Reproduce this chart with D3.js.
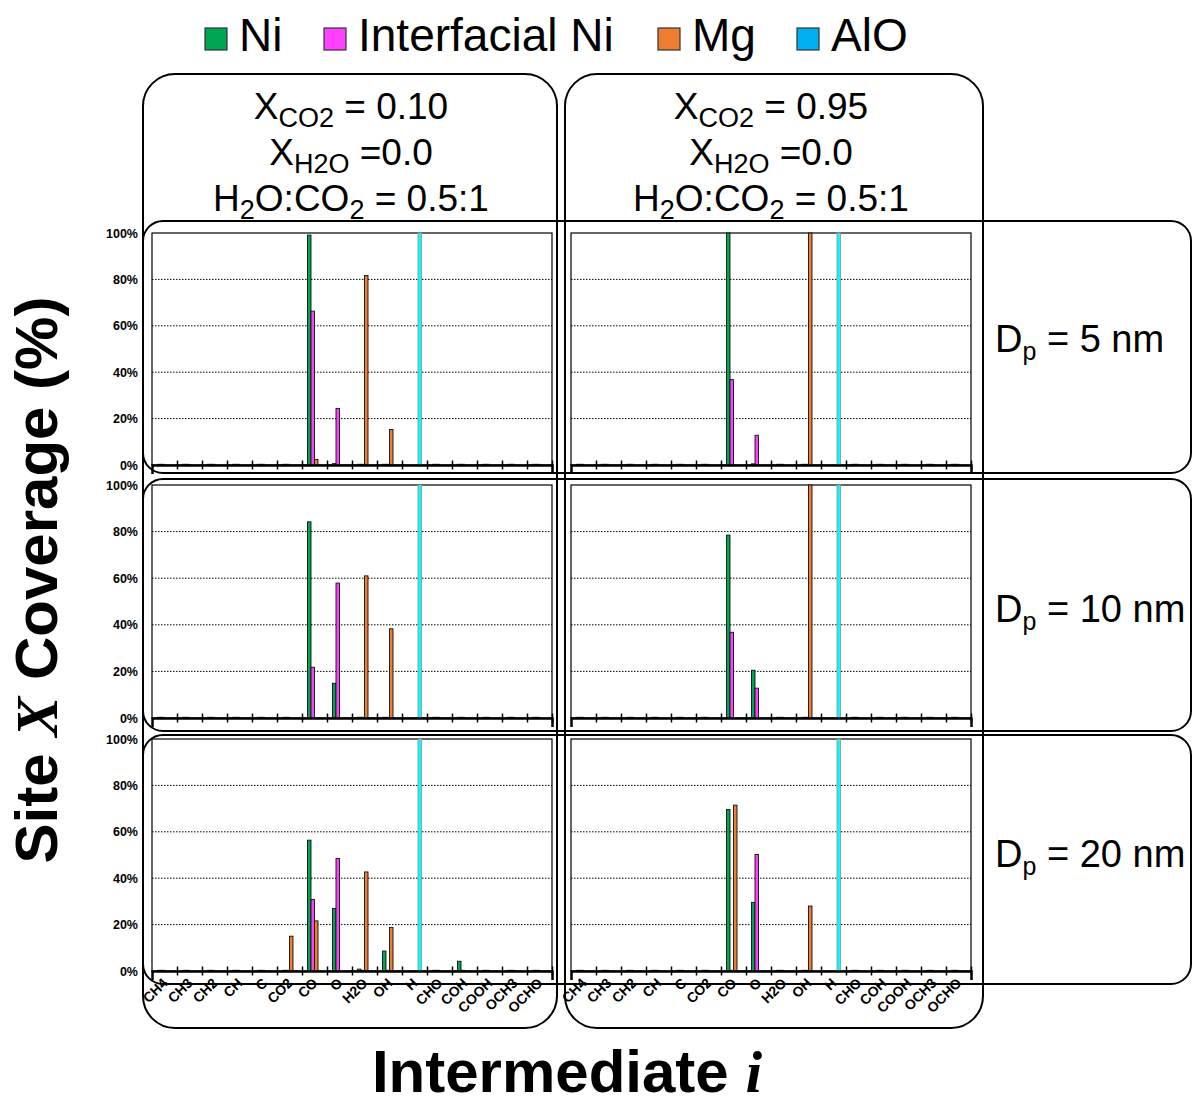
<!DOCTYPE html>
<html><head><meta charset="utf-8">
<script src="https://cdn.jsdelivr.net/npm/d3@7"></script>
<style>body{margin:0;background:#fff;} svg{display:block;font-family:"Liberation Sans",Arial,sans-serif;}</style>
</head><body><svg id="chart" width="1192" height="1097"></svg>
<script>
// ---------------- DATA ----------------
const categories = ["CH4","CH3","CH2","CH","C","CO2","CO","O","H2O","OH","H","CHO","COH","COOH","OCH3","OCHO"];
const seriesNames = ["Ni","Interfacial Ni","Mg","AlO"];
const diameters = ["5","10","20"];          // rows (D_p, nm)
const xco2Values = ["0.10","0.95"];          // columns
const xh2oValue = "0.0";
const ratioValue = "0.5:1";
const yTicks = [0,20,40,60,80,100];

// coverage [row = D_p][col = X_CO2][category]
const niCoverage = [
  [[0.3,0.3,0.3,0.3,0.3,0.3,99.1,0.6,0.3,0.3,0,0.3,0.3,0.3,0.3,0.3],
   [0.3,0.3,0.3,0.3,0.3,0.3,100,0.5,0.3,0.3,0,0.3,0.3,0.3,0.3,0.3]],
  [[0.3,0.3,0.3,0.3,0.3,0.3,84.2,14.9,0.3,0.3,0,0.3,0.3,0.3,0.3,0.3],
   [0.3,0.3,0.3,0.3,0.3,0.3,78.5,20.5,0.3,0.3,0,0.3,0.3,0.3,0.3,0.3]],
  [[0.3,0.3,0.3,0.3,0.3,0.3,56.4,27.0,0.8,8.6,0,0.3,4.2,0.3,0.3,0.3],
   [0.3,0.3,0.3,0.3,0.3,0.3,69.6,29.6,0.3,0.3,0,0.3,0.3,0.3,0.3,0.3]]
];
const interfacialNiCoverage = [
  [[0.3,0.3,0.3,0.3,0.3,0.3,66.3,24.4,0.3,0.3,0,0.3,0.3,0.3,0.3,0.3],
   [0.3,0.3,0.3,0.3,0.3,0.3,36.8,12.8,0.3,0.3,0,0.3,0.3,0.3,0.3,0.3]],
  [[0.3,0.3,0.3,0.3,0.3,0.3,21.8,57.9,0.3,0.3,0,0.3,0.3,0.3,0.3,0.3],
   [0.3,0.3,0.3,0.3,0.3,0.3,36.8,12.8,0.3,0.3,0,0.3,0.3,0.3,0.3,0.3]],
  [[0.3,0.3,0.3,0.3,0.3,0.3,30.8,48.5,0.3,0.3,0,0.3,0.3,0.3,0.3,0.3],
   [0.3,0.3,0.3,0.3,0.3,0.3,0.3,50.2,0.3,0.3,0,0.3,0.3,0.3,0.3,0.3]]
];
const mgCoverage = [
  [[0,0,0,0,0,0,2.4,0,81.7,15.3,0,0,0,0,0,0],
   [0,0,0,0,0,0,0,0,0,100,0,0,0,0,0,0]],
  [[0,0,0,0,0,0,0,0,61.0,38.3,0,0,0,0,0,0],
   [0,0,0,0,0,0,0,0,0,100,0,0,0,0,0,0]],
  [[0,0,0,0,0,15.0,21.6,0,42.7,18.8,0,0,0,0,0,0],
   [0,0,0,0,0,0,71.5,0,0,28.0,0,0,0,0,0,0]]
];
const aloCoverage = [
  [[0,0,0,0,0,0,0,0,0,0,100,0,0,0,0,0],
   [0,0,0,0,0,0,0,0,0,0,100,0,0,0,0,0]],
  [[0,0,0,0,0,0,0,0,0,0,100,0,0,0,0,0],
   [0,0,0,0,0,0,0,0,0,0,100,0,0,0,0,0]],
  [[0,0,0,0,0,0,0,0,0,0,100,0,0,0,0,0],
   [0,0,0,0,0,0,0,0,0,0,100,0,0,0,0,0]]
];

// ---------------- STYLE / LAYOUT ----------------
const barColors = ["#00A651","#FF40FF","#ED7D31","#00FFFF"];
const barStrokes = ["#111","#111","#111","#999"];
const legendColors = ["#00A651","#FF40FF","#ED7D31","#00B0F0"];
const allSeries = [niCoverage, interfacialNiCoverage, mgCoverage, aloCoverage];

const rowTop = [233, 485, 739];
const rowBottom = [465, 718, 971];
const colLeft = [152, 571];
const plotW = 400;

const svg = d3.select("#chart");

// outer boxes
const boxes = svg.append("g").attr("fill","none").attr("stroke","#000").attr("stroke-width",2);
boxes.append("rect").attr("x",143).attr("y",74).attr("width",414).attr("height",954).attr("rx",32);
boxes.append("rect").attr("x",565).attr("y",74).attr("width",418).attr("height",954).attr("rx",32);
[[221,252],[479,252],[735,249]].forEach(([y,h]) => {
  boxes.append("rect").attr("x",143).attr("y",y).attr("width",1048).attr("height",h).attr("rx",20);
});

// legend
const legendX = [205, 324, 658, 797];
const legend = svg.append("g");
seriesNames.forEach((s,i) => {
  legend.append("rect").attr("x",legendX[i]).attr("y",28).attr("width",22).attr("height",22)
    .attr("fill",legendColors[i]).attr("stroke","#333").attr("stroke-width",1.2);
  legend.append("text").attr("x",legendX[i]+34).attr("y",51).attr("font-size",46).text(s);
});

// rich text helper: parts = [[text, isSub]]
function richText(parent, x, y, parts, size, subSize, anchor) {
  const t = parent.append("text").attr("x",x).attr("y",y).attr("font-size",size)
    .attr("text-anchor",anchor||"middle");
  let shifted = false;
  parts.forEach(([txt, sub]) => {
    const ts = t.append("tspan").text(txt);
    if (sub && !shifted) { ts.attr("dy", size*0.22).attr("font-size", subSize); shifted = true; }
    else if (sub) { ts.attr("font-size", subSize); }
    else if (!sub && shifted) { ts.attr("dy", -size*0.22); shifted = false; }
  });
  return t;
}

// column headers
const colCenter = [351, 771];
xco2Values.forEach((v,c) => {
  richText(svg, colCenter[c], 119, [["X",false],["CO2",true],[" = "+v,false]], 37, 27);
  richText(svg, colCenter[c], 165, [["X",false],["H2O",true],[" ="+xh2oValue,false]], 37, 27);
  richText(svg, colCenter[c], 211, [["H",false],["2",true],["O:CO",false],["2",true],[" = "+ratioValue,false]], 37, 27);
});

// row labels
const rowLabelY = [352, 622, 867];
diameters.forEach((d,r) => {
  richText(svg, 995, rowLabelY[r], [["D",false],["p",true],[" = "+d+" nm",false]], 38, 25, "start");
});

// panels
const x0 = d3.scaleBand().domain(categories).range([0, plotW]).paddingInner(0).paddingOuter(0);
const x1 = d3.scaleBand().domain(seriesNames).range([5.5, 19.5]);

diameters.forEach((d,r) => {
  xco2Values.forEach((xv,c) => {
    const h = rowBottom[r] - rowTop[r];
    const y = d3.scaleLinear().domain([0,100]).range([h,0]);
    const g = svg.append("g").attr("transform",`translate(${colLeft[c]},${rowTop[r]})`);
    g.append("rect").attr("width",plotW).attr("height",h).attr("fill","#fff");
    // gridlines
    g.selectAll("line.grid").data(yTicks.filter(t => t>0 && t<100)).join("line")
      .attr("class","grid").attr("x1",0).attr("x2",plotW)
      .attr("y1",t=>y(t)).attr("y2",t=>y(t))
      .attr("stroke","#000").attr("stroke-width",1).attr("stroke-dasharray","1.5,1.5");
    // frame
    g.append("rect").attr("width",plotW).attr("height",h).attr("fill","none")
      .attr("stroke","#000").attr("stroke-width",1.2);
    // bars
    seriesNames.forEach((s,si) => {
      const vals = allSeries[si][r][c];
      g.append("g").selectAll("rect").data(categories.map((cat,i)=>({cat, v: vals[i]})).filter(o=>o.v>0))
        .join("rect")
        .attr("x", o => x0(o.cat) + x1(s))
        .attr("y", o => y(o.v))
        .attr("width", x1.bandwidth())
        .attr("height", o => h - y(o.v))
        .attr("fill", barColors[si])
        .attr("stroke", barStrokes[si]).attr("stroke-width", 0.9);
    });
    // baseline axis with boundary ticks
    const xl = d3.scaleLinear().domain([0, categories.length]).range([0, plotW]);
    const ax = g.append("g").attr("transform",`translate(0,${h})`)
      .call(d3.axisBottom(xl).tickValues(d3.range(1, categories.length+1)).tickSize(9).tickFormat(""));
    ax.select(".domain").attr("stroke","#000").attr("stroke-width",2.5);
    ax.selectAll(".tick line").attr("stroke","#000").attr("stroke-width",1.5).attr("transform","translate(0,-4.5)");
    // y tick labels (left column only)
    if (c === 0) {
      const ya = g.append("g").attr("transform",`translate(-14,0)`)
        .call(d3.axisLeft(y).tickValues(yTicks).tickSize(0).tickPadding(0).tickFormat(t => t+"%"));
      ya.select(".domain").remove();
      ya.selectAll("text").attr("font-size",12.5).attr("font-weight","bold")
        .attr("font-family","'Liberation Sans',Arial,sans-serif").attr("fill","#000");
    }
    // x category labels (bottom row only)
    if (r === diameters.length - 1) {
      g.append("g").selectAll("text").data(categories).join("text")
        .attr("transform", cat => `translate(${x0(cat)+x0.bandwidth()/2+4},${h+13}) rotate(-45)`)
        .attr("text-anchor","end").attr("font-size",14).attr("font-weight","bold").text(cat => cat);
    }
  });
});

// axis titles
const yt = svg.append("text").attr("transform","translate(57,580) rotate(-90)")
  .attr("text-anchor","middle").attr("font-size",60).attr("font-weight","bold");
yt.append("tspan").text("Site ");
yt.append("tspan").attr("font-family","'Liberation Serif',serif").attr("font-style","italic").text("X");
yt.append("tspan").text(" Coverage (%)");

const xt = svg.append("text").attr("x",567).attr("y",1092)
  .attr("text-anchor","middle").attr("font-size",60).attr("font-weight","bold");
xt.append("tspan").text("Intermediate ");
xt.append("tspan").attr("font-family","'Liberation Serif',serif").attr("font-style","italic").text("i");
</script>
</body></html>
